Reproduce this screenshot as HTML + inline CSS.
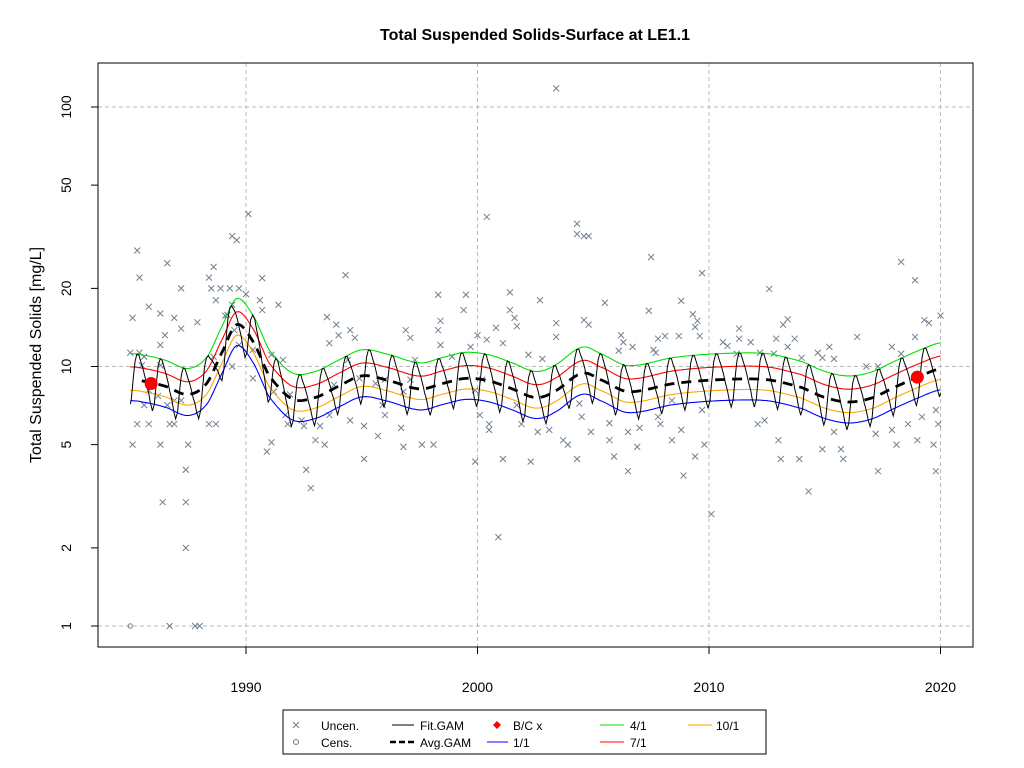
<!DOCTYPE html>
<html><head><meta charset="utf-8"><style>
body{margin:0;background:#fff;}
svg{display:block;font-family:"Liberation Sans",Arial,sans-serif;}
</style></head><body>
<svg id="chart" width="1024" height="768" viewBox="0 0 1024 768">
<text x="535" y="40" text-anchor="middle" font-size="16" font-weight="bold">Total Suspended Solids-Surface at LE1.1</text>
<text transform="translate(41,355) rotate(-90)" text-anchor="middle" font-size="16">Total Suspended Solids [mg/L]</text>
<g id="grid"></g>
<g id="axes"></g>
<g id="points"></g>
<g id="lines"></g>
<rect x="98" y="63" width="875" height="584" fill="none" stroke="#000"/>
<g font-size="12">
<rect x="283" y="710" width="483" height="44" fill="#fff" stroke="#000"/>
<g><path d="M293,722l6,6M299,722l-6,6" stroke="#708090"/><text x="321" y="730">Uncen.</text></g>
<g><circle cx="296" cy="742" r="2.5" fill="none" stroke="#708090"/><text x="321" y="747">Cens.</text></g>
<g><line x1="392" y1="725" x2="414" y2="725" stroke="#000"/><text x="420" y="730">Fit.GAM</text></g>
<g><line x1="390" y1="742" x2="414" y2="742" stroke="#000" stroke-width="2.5" stroke-dasharray="6,3"/><text x="420" y="747">Avg.GAM</text></g>
<g><path d="M497,721l4,4l-4,4l-4,-4z" fill="red"/><text x="513" y="730">B/C x</text></g>
<g><line x1="487" y1="742" x2="508" y2="742" stroke="blue"/><text x="513" y="747">1/1</text></g>
<g><line x1="600" y1="725" x2="624" y2="725" stroke="#00e000"/><text x="630" y="730">4/1</text></g>
<g><line x1="600" y1="742" x2="624" y2="742" stroke="red"/><text x="630" y="747">7/1</text></g>
<g><line x1="688" y1="725" x2="712" y2="725" stroke="orange"/><text x="716" y="730">10/1</text></g>
</g>
</svg>
<script>
const yTicks=[1,2,5,10,20,50,100];
const xTicks=[1990,2000,2010,2020];
const gridY=[1,10,100];
const obs=[[1985.3,28],[1986.6,25],[1985.4,22],[1987.2,20],[1985.8,17],[1989.1,15.7],[1986.9,15.4],[1985.1,15.4],[1987.9,14.8],[1986.3,16],[1986.5,13.2],[1985.0,11.3],[1985.4,11.3],[1985.6,10.9],[1985.5,10.1],[1986.3,10.1],[1987.2,14],[1986.3,12.1],[1985.8,8.1],[1986.2,7.7],[1987.2,7.4],[1985.6,7.1],[1986.6,7.1],[1986.9,7.4],[1985.3,6],[1985.8,6],[1986.7,6],[1986.9,6],[1988.4,6],[1988.7,6],[1985.1,5],[1986.3,5],[1987.5,5],[1987.4,4],[1986.4,3],[1987.4,3],[1987.4,2],[1986.7,1],[1987.8,1],[1988,1],
[1988.6,24.2],[1988.4,22],[1988.5,20],[1988.9,20],[1988.7,18],[1989.3,20],[1989.7,20],[1990,19],[1989.4,17.3],[1989.2,15.8],[1989.5,13.8],[1989.7,12.1],[1988.6,10.9],[1990.3,11.6],[1990.7,21.9],[1990.1,38.7],[1989.4,31.8],[1989.6,30.7],[1990.3,9],[1989.4,10],[1990.6,18],[1990.7,16.5],[1991.4,17.3],[1991.1,11.1],[1991.2,8],[1991.6,10.6],[1991.7,6.5],[1991.8,6],[1992.4,6.2],[1991.1,5.1],[1990.9,4.7],[1991.9,7.8],[1992.5,5.9],[1992.6,4],[1992.8,3.4],[1993,5.2],[1993.2,5.9],[1993.4,5],[1993.6,6.5],[1993.6,12.3],[1993.5,15.5],[1993.8,8.5],[1993.9,14.5],[1994,13.2],[1994.4,10.6],[1994.5,13.8],[1994.5,6.2],[1994.3,22.5],[1994.7,12.9],[1994.9,9],[1995.6,8.6],[1995.7,5.4],[1995.1,5.9],[1995.1,4.4],[1995.9,7.1],[1996,8.9],[1996,6.5],[1996.7,5.8],[1996.8,4.9],[1996.9,13.8],[1997.1,12.9],[1997.1,8.9],[1996.8,8],[1997.3,10.6],[1997.6,5],[1998.1,5],[1998.3,18.9],[1998.3,13.8],[1998.4,15],[1998.4,12.1],[1998.9,10.9],[1999.5,18.9],[1999.4,16.5],[1999.7,11.9],[2000,13.2],[2000.2,8.9],[1999.9,8.1],[2000.4,12.7],[1999.9,4.3],[2000.1,6.5],[2000.5,6],[2000.5,5.7],[2000.8,14.1],[2001.1,12.3],[2001.4,16.5],[2001.6,15.4],[2001.7,14.3],[2001.1,4.4],[2001.7,7.1],[2001.9,6],[2002.2,11.1],[2002.7,18],[2002.3,4.3],[2000.4,37.7],[2000.9,2.2],[2001.4,19.3],[2003.4,118],
[2004.3,35.5],[2004.3,32.4],[2004.6,31.8],[2004.8,31.8],[2007.5,26.4],[2005.5,17.6],[2009.7,22.9],[2008.8,17.9],[2009.3,15.9],[2009.5,15],[2009.4,14.2],[2009.6,13.1],[2008.7,13.1],[2008.1,13.1],[2007.8,12.8],[2007.4,16.4],[2007.6,11.6],[2007.7,11.3],[2006.2,13.2],[2006.3,12.4],[2006.7,11.9],[2006.1,11.5],[2004.6,15.1],[2004.8,14.5],[2003.4,14.7],[2003.4,13],[2002.8,10.7],[2002.6,5.6],[2003.1,5.7],[2003.7,5.2],[2003.9,5],[2004.3,4.4],[2004.5,6.4],[2004.9,5.6],[2005.7,6.05],[2005.7,5.2],[2005.9,4.5],[2006.5,3.95],[2006.9,4.9],[2006.5,5.6],[2007,5.8],[2007.9,6],[2007.8,6.4],[2008.4,7.4],[2009.7,6.8],[2004.4,7.2],[2010.1,2.7],[2009.4,4.5],[2009.8,5],[2008.9,3.8],[2008.8,5.7],[2008.4,5.2],[2011.3,14],[2011.3,12.8],[2011.8,12.4],[2010.6,12.4],[2010.8,12],[2011.2,11.2],[2012.8,11.2],[2012.2,11.3],[2012.6,19.9],[2013.2,14.5],[2013.4,15.2],[2012.9,12.8],[2013.7,12.8],[2013.4,11.9],[2015.2,11.9],[2014.7,11.3],[2014.9,10.8],[2015.4,10.7],[2014,10.8],[2012.1,6],[2012.4,6.2],[2013,5.2],[2013.1,4.4],[2013.9,4.4],[2014.3,3.3],[2014.9,4.8],[2015.4,5.6],[2015.7,4.8],[2015.8,4.4],[2016.4,13],[2016.8,10],[2017.3,10],[2017.9,11.9],[2018.3,11.2],[2018.9,13],[2018.3,25.3],[2018.9,21.5],[2019.3,15.1],[2019.5,14.7],[2020,15.7],[2019.8,6.8],[2019.9,6],[2019.7,5],[2019.8,3.95],[2019,5.2],[2019.2,6.4],[2018.6,6],[2018.1,5],[2017.9,5.7],[2017.3,3.95],[2017.2,5.5]];
const cens=[[1985,1]];
const bcYears=[1985.9,2019.0];
const bcVals=[8.6,9.1];
const avgYears=[1985,1985.5,1986.5,1987.5,1988.3,1989,1989.6,1990.3,1991,1992,1993,1994,1995,1996,1997.5,1998.5,1999.5,2000.5,2001.5,2002.5,2003.3,2004.5,2005.3,2006.5,2008.5,2010.5,2012.5,2014,2015,2016,2017,2018,2019,2020];
const avgVals=[8.9,8.8,8.4,7.8,8.6,11.5,14.5,12.5,9.2,7.5,7.6,8.4,9.2,8.9,8.2,8.6,9.0,8.8,8.2,7.6,8.0,9.4,8.9,8.0,8.6,8.9,8.9,8.3,7.6,7.3,7.55,8.3,9.1,9.8];
const seasonFactor=[0.83,1.0,1.18,1.26,1.25,1.18,1.12,1.05,0.97,0.91,0.83,0.78];
const seasonLines=[["1/1",0,"blue"],["4/1",3,"#00e000"],["7/1",6,"red"],["10/1",9,"orange"]];

const NS="http://www.w3.org/2000/svg";
const X=y=>246+(y-1990)*23.15;
const Y=v=>626-Math.log10(v)*259.5;
function mk(tag,attrs,parent){const e=document.createElementNS(NS,tag);for(const k in attrs)e.setAttribute(k,attrs[k]);parent.appendChild(e);return e;}
const grid=document.getElementById('grid'),axes=document.getElementById('axes'),pts=document.getElementById('points'),lines=document.getElementById('lines');
gridY.forEach(v=>{const l=mk('line',{x1:98,x2:973,y1:Y(v),y2:Y(v),stroke:'#bbb','stroke-dasharray':'4,3'},grid);

});
xTicks.forEach(t=>{const l=mk('line',{x1:X(t),x2:X(t),y1:63,y2:647,stroke:'#bbb','stroke-dasharray':'4,3'},grid);


const tk=mk('line',{x1:X(t),x2:X(t),y1:647,y2:654,stroke:'#000'},axes);


const tx=mk('text',{x:X(t),y:692,'text-anchor':'middle','font-size':14},axes);tx.textContent=t;

});
mk('line',{x1:X(1990),x2:X(2020),y1:654,y2:654,stroke:'none'},axes);
yTicks.forEach(v=>{const tk=mk('line',{x1:91,x2:98,y1:Y(v),y2:Y(v),stroke:'#000'},axes);


const tx=mk('text',{transform:`translate(71,${Y(v)}) rotate(-90)`,'text-anchor':'middle','font-size':14},axes);tx.textContent=v;

});
obs.forEach(([t,v])=>{const x=X(t),y=Y(v);const p=mk('path',{d:`M${x-3},${y-3}l6,6M${x+3},${y-3}l-6,6`,stroke:'#708090','stroke-width':1},pts);

});
cens.forEach(([t,v])=>{const c=mk('circle',{cx:X(t),cy:Y(v),r:2.2,fill:'none',stroke:'#708090'},pts);

});
function avgAt(t){let i=0;while(i<avgYears.length-2&&t>avgYears[i+1])i++;
const g=k=>avgVals[Math.max(0,Math.min(avgYears.length-1,k))];
const t0=avgYears[i],t1=avgYears[i+1];const u=Math.max(0,Math.min(1,(t-t0)/(t1-t0)));
const p0=Math.log(g(i-1)),p1=Math.log(g(i)),p2=Math.log(g(i+1)),p3=Math.log(g(i+2));
const r=0.5*((2*p1)+(-p0+p2)*u+(2*p0-5*p1+4*p2-p3)*u*u+(-p0+3*p1-3*p2+p3)*u*u*u);return Math.exp(r);}
function sfAt(t){const m=((t-Math.floor(t))*12+12-0.5)%12;const i=Math.floor(m),f=m-i;return seasonFactor[i]*(1-f)+seasonFactor[(i+1)%12]*f;}
const T0=1985,T1=2020;
seasonLines.forEach(([nm,mi,col])=>{let d='';for(let t=T0;t<=T1+1e-6;t+=0.05){d+=(d?'L':'M')+X(t).toFixed(1)+','+Y(avgAt(t)*seasonFactor[mi]).toFixed(1);}
const p=mk('path',{d,fill:'none',stroke:col,'stroke-width':1.1},lines);

});
let fd='';for(let t=T0;t<=T1+1e-6;t+=1/48){fd+=(fd?'L':'M')+X(t).toFixed(1)+','+Y(avgAt(t)*sfAt(t)).toFixed(1);}
const fp=mk('path',{d:fd,fill:'none',stroke:'#000','stroke-width':1},lines);


let ad='';for(let t=T0+0.5;t<=T1+1e-6;t+=0.05){ad+=(ad?'L':'M')+X(t).toFixed(1)+','+Y(avgAt(t)).toFixed(1);}
const ap=mk('path',{d:ad,fill:'none',stroke:'#000','stroke-width':2.8,'stroke-dasharray':'10,7'},lines);


bcYears.forEach((t,i)=>{const c=mk('circle',{cx:X(t),cy:Y(bcVals[i]),r:6.5,fill:'red'},lines);

});
</script>
</body></html>
